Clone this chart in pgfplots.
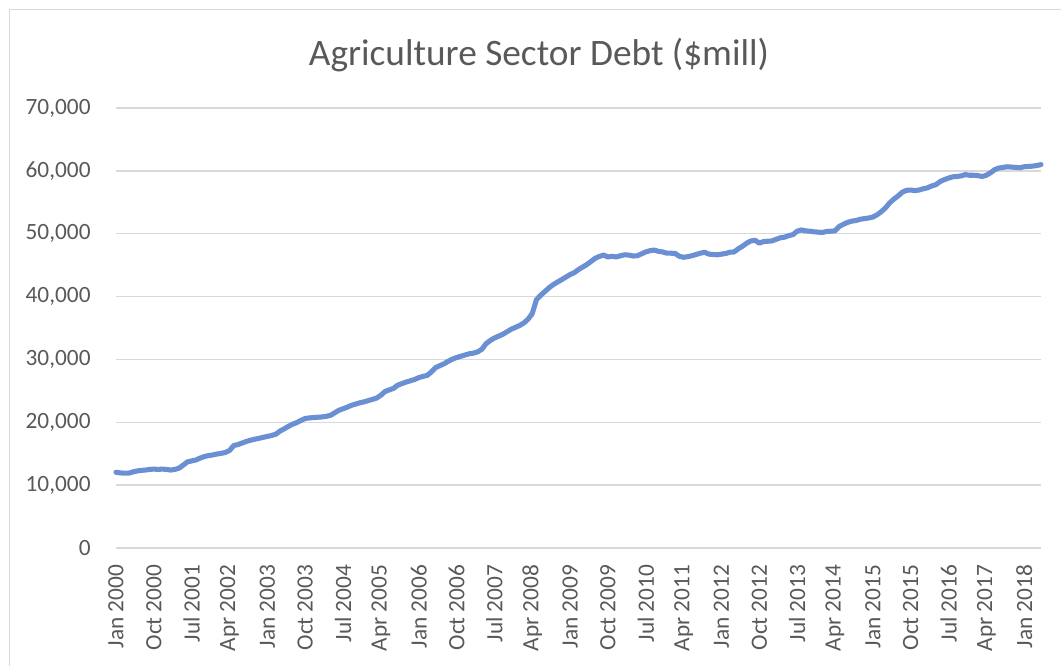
\documentclass[border=0pt]{standalone}
\usepackage{fontspec}
\setmainfont{Carlito}
\usepackage{pgfplots}
\usepackage{pgfplotstable}
\pgfplotsset{compat=1.18}
\definecolor{txtgray}{HTML}{595959}
\definecolor{gridgray}{HTML}{D9D9D9}
\definecolor{linblue}{RGB}{106,143,210}
\definecolor{bordergray}{HTML}{D9D9D9}

\pgfplotstableread{
m v
0 12050
1 11950
2 11900
3 11900
4 12100
5 12250
6 12350
7 12400
8 12500
9 12550
10 12500
11 12550
12 12500
13 12400
14 12500
15 12700
16 13200
17 13700
18 13850
19 14000
20 14300
21 14550
22 14700
23 14800
24 14950
25 15050
26 15200
27 15500
28 16300
29 16450
30 16700
31 16950
32 17150
33 17300
34 17450
35 17600
36 17750
37 17900
38 18100
39 18600
40 18950
41 19350
42 19700
43 19950
44 20300
45 20600
46 20700
47 20750
48 20800
49 20850
50 20950
51 21100
52 21500
53 21900
54 22150
55 22400
56 22700
57 22900
58 23100
59 23250
60 23450
61 23650
62 23850
63 24300
64 24900
65 25150
66 25400
67 25900
68 26150
69 26400
70 26600
71 26800
72 27100
73 27300
74 27450
75 28000
76 28700
77 29000
78 29300
79 29700
80 30050
81 30300
82 30500
83 30700
84 30900
85 31000
86 31200
87 31600
88 32500
89 33000
90 33400
91 33700
92 34000
93 34400
94 34800
95 35100
96 35400
97 35800
98 36400
99 37300
100 39500
101 40200
102 40800
103 41400
104 41900
105 42300
106 42700
107 43100
108 43500
109 43800
110 44300
111 44700
112 45100
113 45600
114 46100
115 46400
116 46600
117 46300
118 46400
119 46300
120 46500
121 46650
122 46600
123 46450
124 46500
125 46800
126 47100
127 47300
128 47400
129 47200
130 47100
131 46900
132 46900
133 46850
134 46400
135 46250
136 46350
137 46500
138 46700
139 46900
140 47050
141 46750
142 46700
143 46650
144 46750
145 46850
146 47050
147 47100
148 47600
149 48000
150 48500
151 48850
152 48950
153 48500
154 48750
155 48800
156 48850
157 49100
158 49350
159 49450
160 49700
161 49850
162 50400
163 50600
164 50450
165 50400
166 50300
167 50250
168 50200
169 50350
170 50400
171 50450
172 51150
173 51500
174 51800
175 52000
176 52100
177 52300
178 52400
179 52500
180 52650
181 53000
182 53500
183 54100
184 54900
185 55500
186 56000
187 56600
188 56900
189 56950
190 56850
191 56950
192 57150
193 57300
194 57600
195 57800
196 58300
197 58600
198 58850
199 59050
200 59100
201 59200
202 59400
203 59300
204 59300
205 59250
206 59100
207 59300
208 59700
209 60200
210 60450
211 60550
212 60650
213 60600
214 60550
215 60500
216 60650
217 60700
218 60750
219 60850
220 61000
}\debt

\begin{document}
\begin{tikzpicture}
\path[use as bounding box] (0,0) rectangle (795.75pt,499.5pt);
\draw[bordergray, line width=1.1pt] (7.1pt,0) -- (7.1pt,492.4pt) -- (795.75pt,492.4pt);
\node[text=txtgray, font=\fontsize{28}{33}\selectfont] at (404.25pt,458.25pt) {Agriculture Sector Debt (\$mill)};
\begin{axis}[
  at={(87pt,88.5pt)}, anchor=south west,
  scale only axis,
  width=693.75pt, height=330pt,
  xmin=0, xmax=220,
  ymin=0, ymax=70000,
  ytick={0,10000,...,70000},
  xtick={0,9,...,216},
  xticklabels={Jan 2000, Oct 2000, Jul 2001, Apr 2002, Jan 2003, Oct 2003, Jul 2004, Apr 2005, Jan 2006, Oct 2006, Jul 2007, Apr 2008, Jan 2009, Oct 2009, Jul 2010, Apr 2011, Jan 2012, Oct 2012, Jul 2013, Apr 2014, Jan 2015, Oct 2015, Jul 2016, Apr 2017, Jan 2018},
  scaled y ticks=false,
  /pgf/number format/.cd, 1000 sep={,}, assume math mode=true,
  /pgfplots/.cd,
  axis line style={draw=none},
  major tick length=0pt,
  ymajorgrids,
  grid style={gridgray, line width=1.1pt},
  tick label style={text=txtgray, font=\fontsize{17.5}{21}\selectfont},
  yticklabel style={anchor=east, xshift=-15.5pt},
  xticklabel style={rotate=90, anchor=east, xshift=-9pt},
  clip=false,
]
\addplot[linblue, line width=3.8pt, line join=round, line cap=round] table[x=m, y=v] {\debt};
\end{axis}
\end{tikzpicture}
\end{document}
